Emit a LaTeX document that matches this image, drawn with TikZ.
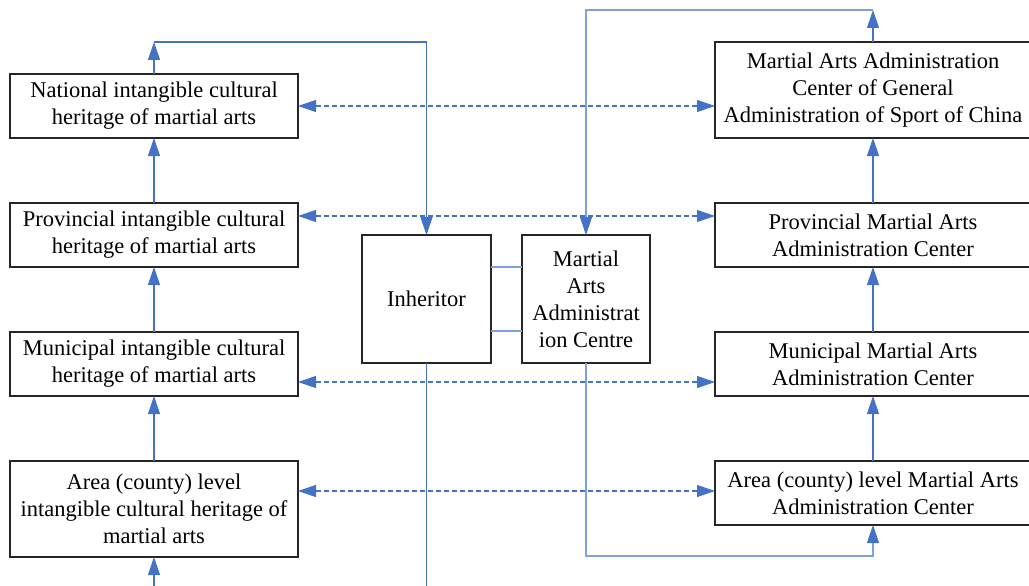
\documentclass[tikz,border=0pt]{standalone}
\usepackage{fontspec}
\setmainfont{Liberation Serif}
\usetikzlibrary{positioning,arrows.meta}

\definecolor{flowblue}{HTML}{4472C4}
\definecolor{linkblue}{HTML}{7FA1DA}

\tikzset{
  box/.style={draw=black!85, line width=1.2pt, rectangle, inner sep=0pt, outer sep=0pt,
    align=center, font=\fontsize{22.5}{27}\selectfont},
  levelbox/.style={box, minimum width=288pt, minimum height=64pt},
  adminbox/.style={box, minimum width=316pt, minimum height=64pt},
  midbox/.style={box, minimum width=128pt, minimum height=128pt},
  flow/.style={draw=flowblue, line width=1.1pt, -{Triangle[length=18pt,width=12pt,color=flowblue]}},
  line/.style={draw=flowblue, line width=1.1pt},
  link/.style={draw=linkblue, line width=1.1pt},
  dflow/.style={draw=flowblue, line width=1.1pt, dash pattern=on 5pt off 3pt,
    {Triangle[length=18pt,width=12pt]}-{Triangle[length=18pt,width=12pt]}},
}

\begin{document}
\begin{tikzpicture}[x=1pt, y=-1pt, node distance=65pt]

  \useasboundingbox (0,0) rectangle (1029,586);

  % heritage levels
  \node (nat) [levelbox] at (154,106) {National intangible cultural\\heritage of martial arts};
  \node (prov) [levelbox, below=of nat] {Provincial intangible cultural\\heritage of martial arts};
  \node (muni) [levelbox, below=of prov] {Municipal intangible cultural\\heritage of martial arts};
  \node (area) [levelbox, minimum height=96pt, below=of muni] {Area (county) level\\intangible cultural heritage of\\martial arts};

  % administration levels
  \node (china) [adminbox, minimum height=96pt] at (873,90) {Martial Arts Administration\\Center of General\\Administration of Sport of China};
  \node (provadm) [adminbox, below=of china] {Provincial Martial Arts\\Administration Center};
  \node (muniadm) [adminbox, below=of provadm] {Municipal Martial Arts\\Administration Center};
  \node (areaadm) [adminbox, below=of muniadm] {Area (county) level Martial Arts\\Administration Center};

  % middle
  \node (inh) [midbox, minimum width=129pt] at (426.5,299) {Inheritor};
  \node (maac) [midbox] at (586,299) {Martial\\Arts\\Administrat\\ion Centre};

  \coordinate (lt) at (154,42);
  \coordinate (lb) at (154,586);
  \coordinate (ib) at (426.5,586);
  \coordinate (rt) at (586,10);
  \coordinate (rb) at (586,556);

  \draw [flow] (prov) -- (nat);
  \draw [flow] (muni) -- (prov);
  \draw [flow] (area) -- (muni);
  \draw [flow] (lb) -- (area);
  \draw [flow] (nat) -- (lt);
  \draw [flow] (lt) -| (inh);
  \draw [line] (inh) -- (ib);

  \draw [flow] (provadm) -- (china);
  \draw [flow] (muniadm) -- (provadm);
  \draw [flow] (areaadm) -- (muniadm);
  \draw [flow] (china) -- (china |- rt);
  \draw [flow, draw=linkblue] (china |- rt) -- (rt) -- (maac);
  \draw [flow, draw=linkblue] (maac) -- (rb) -| (areaadm);

  \draw [link] ([yshift=32pt]inh.east) -- ([yshift=32pt]maac.west);
  \draw [link] ([yshift=-32pt]inh.east) -- ([yshift=-32pt]maac.west);

  \draw [dflow] (nat.east) -- (nat.east -| china.west);
  \draw [dflow] ([yshift=19pt]prov.east) -- ([yshift=19pt]prov.east -| provadm.west);
  \draw [dflow] ([yshift=-18pt]muni.east) -- ([yshift=-18pt]muni.east -| muniadm.west);
  \draw [dflow] ([yshift=18pt]area.east) -- ([yshift=18pt]area.east -| areaadm.west);

\end{tikzpicture}
\end{document}
